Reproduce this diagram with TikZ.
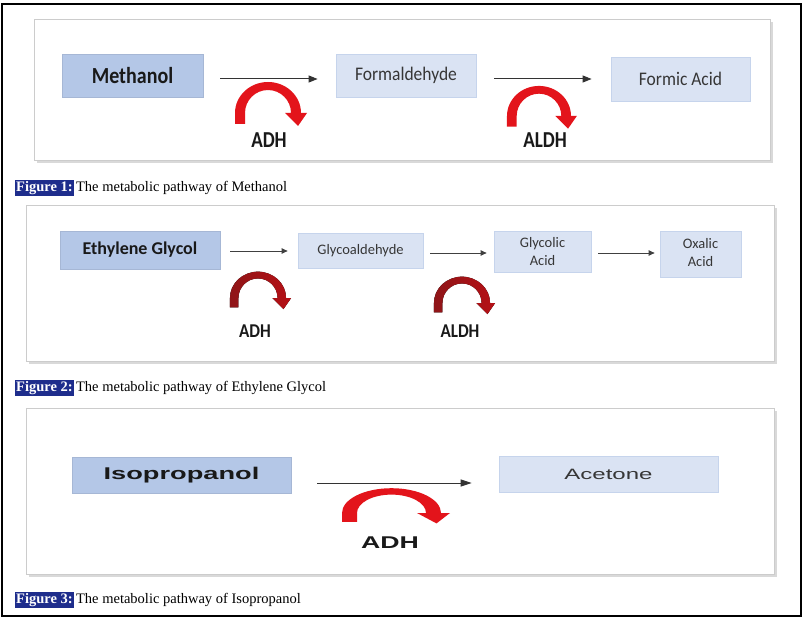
\documentclass[tikz,border=0pt]{standalone}
\usepackage{fontspec}
\setmainfont{Liberation Serif}
\newfontfamily\calf{Carlito}
\newfontfamily\arif{Liberation Sans}
\usetikzlibrary{arrows.meta,calc}
\definecolor{darkbox}{HTML}{B4C7E7}
\definecolor{lightbox}{HTML}{DAE3F3}
\definecolor{lightedge}{HTML}{C6D4EC}
\definecolor{capnavy}{HTML}{1E2D8C}
\definecolor{enzred}{HTML}{E3141B}
\definecolor{enzdark}{HTML}{A8191C}
\definecolor{txtgray}{HTML}{363636}
\begin{document}
\begin{tikzpicture}[x=1pt,y=-1pt,
  panelshadow/.style={fill=gray!30,draw=none},
  panel/.style={draw=gray!40,line width=1pt,fill=white},
  dbox/.style={fill=darkbox,draw=darkbox!92!black,line width=0.6pt,inner sep=0pt,text=black!90},
  lbox/.style={fill=lightbox,draw=lightedge,line width=0.8pt,inner sep=0pt,text=txtgray},
  arr/.style={draw=black!80,line width=1pt,-{Triangle[length=9pt,width=7pt]}},
  arrs/.style={draw=black!75,line width=0.9pt,-{Triangle[length=6pt,width=5.5pt]}},
  enz/.style={font=\fontsize{19}{19}\calf\bfseries,text=black!90,inner sep=0pt},
  figlab/.style={fill=capnavy,text=white,font=\fontsize{14.5}{14.5}\selectfont\bfseries,inner xsep=1pt,inner ysep=1.5pt},
  captxt/.style={font=\fontsize{14.5}{14.5}\selectfont,inner xsep=2pt,inner ysep=1.5pt},
  pics/redturn/.style={code={
    \fill[#1] (-33,11) -- (-33,0) arc[start angle=180,end angle=360,x radius=33,y radius=31]
      -- (39,0) -- (30,13) -- (17,0) -- (23,0)
      arc[start angle=360,end angle=180,x radius=23,y radius=23] -- (-23,11) -- cycle;
  }}
]
\useasboundingbox (0,0) rectangle (806,623);
\draw[line width=1.2pt] (2,4) rectangle (801,616);

% ---------- Panel 1 ----------
\fill[panelshadow] (36.5,22.5) rectangle (772.5,163.5);
\draw[panel] (34,20) rectangle (770,161);
\node[dbox,minimum width=141pt,minimum height=43pt,font=\fontsize{20}{20}\calf\bfseries] (meth) at (132.5,75.5) {\scalebox{1}[1.15]{Methanol}};
\node[lbox,minimum width=140pt,minimum height=43pt,font=\fontsize{17.5}{17.5}\calf] (form) at (406,75.5) {\scalebox{1}[1.1]{Formaldehyde}};
\node[lbox,minimum width=139pt,minimum height=44pt,font=\fontsize{17.5}{17.5}\calf] (fora) at (680.5,79) {\scalebox{1}[1.1]{Formic Acid}};
\draw[arr] ($(meth.east)+(17,3.5)$) -- ($(form.west)+(-18,3.5)$);
\draw[arr] ($(form.east)+(18,3.5)$) -- ($(fora.west)+(-19,0)$);
\pic at (268,113) {redturn=enzred};
\pic[scale=0.97] at (539,116) {redturn=enzred};
\node[enz] (adh1) at (269,140) {\scalebox{1}[1.2]{ADH}};
\node[enz] (aldh1) at (545,140) {\scalebox{1}[1.2]{ALDH}};
\node[figlab,anchor=west] (f1) at (15,188) {Figure 1:};
\node[captxt,anchor=base west] (c1) at (f1.base east) {The metabolic pathway of Methanol};

% ---------- Panel 2 ----------
\fill[panelshadow] (28.5,207.5) rectangle (776.5,363.5);
\draw[panel] (26,205) rectangle (774,361);
\node[dbox,minimum width=160pt,minimum height=38pt,font=\fontsize{18}{18}\calf\bfseries] (eg) at (140,250) {\raisebox{3pt}{Ethylene Glycol}};
\node[lbox,minimum width=125pt,minimum height=35pt,font=\fontsize{14.5}{14.5}\calf] (gly) at (360.5,250.5) {\raisebox{3pt}{Glycoaldehyde}};
\node[lbox,minimum width=97pt,minimum height=41pt,font=\fontsize{14.5}{18}\calf,align=center] (gla) at (542.5,251.5) {Glycolic\\Acid};
\node[lbox,minimum width=81pt,minimum height=46pt,font=\fontsize{14.5}{18}\calf,align=center] (oxa) at (700.5,254) {\raisebox{2pt}{\begin{tabular}{@{}c@{}}Oxalic\\Acid\end{tabular}}};
\draw[arrs] ($(eg.east)+(10,1)$) -- ($(gly.west)+(-10,0.5)$);
\draw[arrs] ($(gly.east)+(7,2.5)$) -- ($(gla.west)+(-7,1.5)$);
\draw[arrs] ($(gla.east)+(7,1.5)$) -- ($(oxa.west)+(-5,-1)$);
\pic[scale=0.85] at (258,298) {redturn={left color=enzdark!85!black,right color=enzred!80!black}};
\pic[scale=0.85] at (462,303) {redturn={left color=enzdark!85!black,right color=enzred!80!black}};
\node[enz,font=\fontsize{17}{17}\calf\bfseries] (adh2) at (255,331) {\scalebox{1}[1.15]{ADH}};
\node[enz,font=\fontsize{17}{17}\calf\bfseries] (aldh2) at (460,331) {\scalebox{1}[1.15]{ALDH}};
\node[figlab,anchor=west] (f2) at (15,388) {Figure 2:};
\node[captxt,anchor=base west] (c2) at (f2.base east) {The metabolic pathway of Ethylene Glycol};

% ---------- Panel 3 ----------
\fill[panelshadow] (28.5,410.5) rectangle (776.5,576.5);
\draw[panel] (26,408) rectangle (774,574);
\node[dbox,minimum width=219pt,minimum height=36pt,font=\fontsize{17}{17}\arif\bfseries] (iso) at (181.5,475) {\scalebox{1.6}[1]{Isopropanol}};
\node[lbox,minimum width=219pt,minimum height=36pt,font=\fontsize{15}{15}\arif] (ace) at (608.5,474) {\scalebox{1.6}[1]{Acetone}};
\draw[arr,-{Triangle[length=11pt,width=7pt]}] ($(iso.east)+(26,8)$) -- ($(ace.west)+(-27,9)$);
\pic[xscale=1.5,yscale=0.8] at (391.5,513) {redturn=enzred};
\node[enz,font=\fontsize{17}{17}\arif\bfseries] (adh3) at (390,543) {\scalebox{1.57}[1]{ADH}};
\node[figlab,anchor=west] (f3) at (15,600) {Figure 3:};
\node[captxt,anchor=base west] (c3) at (f3.base east) {The metabolic pathway of Isopropanol};
\end{tikzpicture}
\end{document}
